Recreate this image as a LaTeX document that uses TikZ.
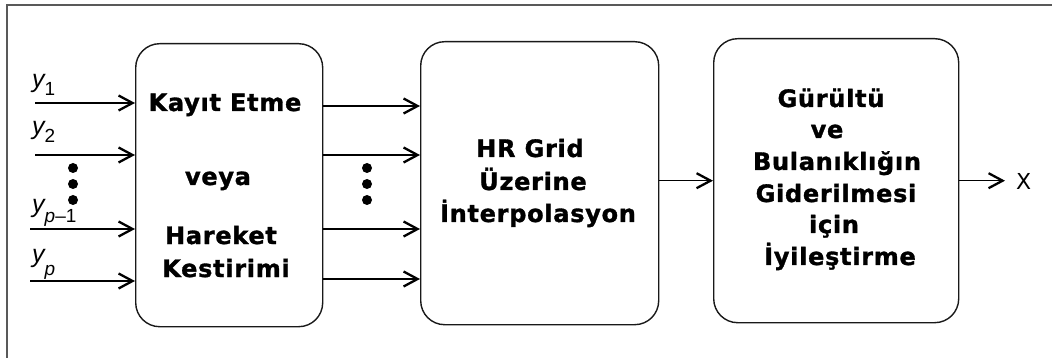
\documentclass[tikz,border=0pt]{standalone}
\usepackage{fontspec}
\setmainfont{DejaVu Sans}
\newfontfamily\boxfont[LetterSpace=3,BoldFeatures={FakeBold=1.3}]{DejaVu Sans}
\newfontfamily\labfont{Liberation Sans}
\usetikzlibrary{arrows.meta}
\newcommand{\ysub}[2]{{\labfont\itshape\fontsize{25}{28}\selectfont y}\raisebox{-#1pt}{\labfont\fontsize{19}{22}\selectfont #2}}
\begin{document}
\begin{tikzpicture}[x=1pt,y=-1pt,
  blk/.style={draw=black!90, line width=1.4pt, rounded corners=24pt, anchor=north west, inner sep=0pt},
  txt/.style={font=\boxfont\bfseries\fontsize{24}{28}\selectfont, anchor=base, inner sep=0pt},
  ylab/.style={anchor=base west, inner sep=0pt},
  arr/.style={line width=1.6pt, -{Straight Barb[length=14pt,width=15pt,line width=2.3pt]}},
  dotc/.style={fill=black}]
\useasboundingbox (0,0) rectangle (1052,358);
\fill[white] (0,0) rectangle (1052,358);
% frame (only top and left visible)
\draw[line width=2.4pt, black!65] (1052,5) -- (7,5) -- (7,358);
% blocks
\node[blk, minimum width=187pt, minimum height=283pt] (box1) at (135,43) {};
\node[blk, minimum width=238pt, minimum height=283pt] (box2) at (420,41) {};
\node[blk, minimum width=245pt, minimum height=284pt] (box3) at (713,38) {};
% block 1 text
\node[txt] (t1a) at (225,111) {Kayıt Etme};
\node[txt] (t1b) at (218,185) {veya};
\node[txt] (t1c) at (221,244) {Hareket};
\node[txt] (t1d) at (226,277) {Kestirimi};
% block 2 text
\node[txt] (t2a) at (530,157) {HR Grid};
\node[txt] (t2b) at (533,190) {Üzerine};
\node[txt] (t2c) at (538,222) {İnterpolasyon};
% block 3 text
\node[txt] (t3a) at (831,107) {Gürültü};
\node[txt] (t3b) at (827,138) {ve};
\node[txt] (t3c) at (837,170) {Bulanıklığın};
\node[txt] (t3d) at (836,202) {Giderilmesi};
\node[txt] (t3e) at (834,233) {için};
\node[txt] (t3f) at (840,265) {İyileştirme};
% input labels
\node[ylab] (ly1) at (32,88) {\ysub{8}{1}};
\node[ylab] (ly2) at (32,135) {\ysub{8}{2}};
\node[ylab] (lyp1) at (32,212.5) {\ysub{10}{{\itshape p}–1}};
\node[ylab] (lyp) at (32,262.5) {\ysub{13}{\itshape p}};
% input free ends
\coordinate (in1) at (35,103);
\coordinate (in2) at (35,155);
\coordinate (in3) at (30,229);
\coordinate (in4) at (30,281);
\draw[arr] (in1) -- (in1 -| box1.west);
\draw[arr] (in2) -- (in2 -| box1.west);
\draw[arr] (in3) -- (in3 -| box1.west);
\draw[arr] (in4) -- (in4 -| box1.west);
% box1 -> box2
\foreach \yy/\nm in {106/o1,155/o2,229/o3,279/o4}{
  \coordinate (\nm) at (0,\yy);
  \draw[arr] (box1.east |- \nm) -- (box2.west |- \nm);
}
% box2 -> box3
\draw[arr] (box2.east |- box3.west) -- (box3.west);
% output
\node[anchor=base west, inner xsep=11pt, inner ysep=0pt, font=\fontsize{22}{26}\selectfont] (X) at (1005,190) {X};
\draw[arr] (box3.east) -- (box3.east -| X.west);
% dots
\fill[dotc] (73,168) circle (5pt) (73,184) circle (5pt) (73,200) circle (5pt);
\fill[dotc] (367,168) circle (5pt) (367,184) circle (5pt) (367,200) circle (5pt);
\end{tikzpicture}
\end{document}
